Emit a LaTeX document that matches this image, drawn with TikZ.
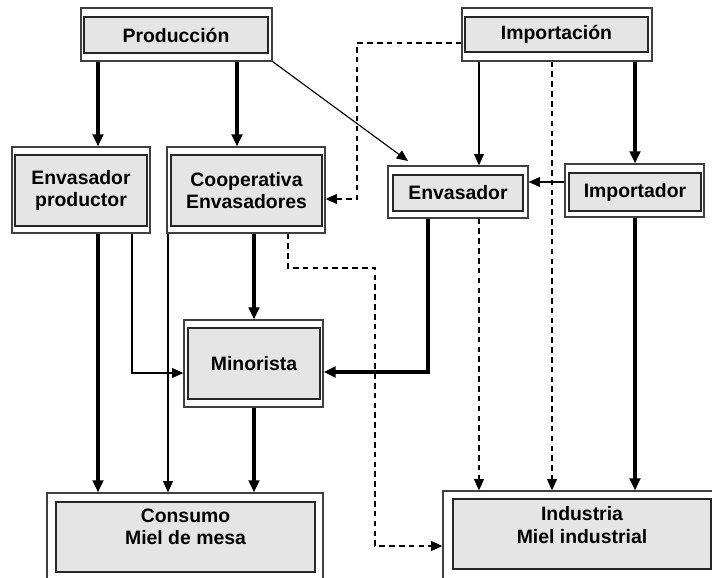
\documentclass[tikz,border=0pt]{standalone}
\usepackage{fontspec}
\setmainfont{Liberation Sans}
\usetikzlibrary{arrows.meta}

\begin{document}
\begin{tikzpicture}
    [%%%%%%%%%%%%%%%%%%%%%%%%%%%%%%
        x=0.025cm, y=-0.025cm,
        frame/.style={rectangle,draw=black!75,line width=0.9pt,inner sep=0pt},
        panel/.style={rectangle,draw=black!85,line width=1pt,fill=gray!20,inner sep=0pt,
            align=center,font=\fontsize{13.8}{16}\selectfont\bfseries},
        caption/.style={inner sep=0pt,align=center,font=\fontsize{13.8}{16}\selectfont\bfseries},
        heavy/.style={line width=2.5pt,-{Triangle[length=8.5pt,width=7.5pt]}},
        light/.style={line width=0.8pt,-{Triangle[length=8pt,width=7pt]}},
        dashy/.style={line width=1pt,dash pattern=on 4pt off 3pt,-{Triangle[length=8pt,width=7pt]}},
    ]%%%%%%%%%%%%%%%%%%%%%%%%%%%%%%
    \clip (0,0) rectangle (712,578);

    \node[frame, minimum width=4.775cm, minimum height=1.325cm] (prod) at (176.5,34.5) {};
    \node[panel, minimum width=4.6cm, minimum height=0.9cm] (prod-in) at (176,35) {Producción};

    \node[frame, minimum width=4.75cm, minimum height=1.325cm] (imp) at (557,34.5) {};
    \node[panel, minimum width=4.575cm, minimum height=0.875cm] (imp-in) at (556.5,34.5) {Importación};

    \node[frame, minimum width=3.45cm, minimum height=2.15cm] (envp) at (81,190) {};
    \node[panel, minimum width=3.3cm, minimum height=1.775cm] (envp-in) at (81,190.5) {Envasador\\productor};

    \node[frame, minimum width=3.95cm, minimum height=2.15cm] (coop) at (246,190) {};
    \node[panel, minimum width=3.775cm, minimum height=1.775cm] (coop-in) at (246.5,190.5) {Cooperativa\\Envasadores};

    \node[frame, minimum width=3.5cm, minimum height=1.3cm] (envs) at (458,192) {};
    \node[panel, minimum width=3.25cm, minimum height=0.9cm] (envs-in) at (458,193) {Envasador};

    \node[frame, minimum width=3.475cm, minimum height=1.325cm] (impr) at (634.5,190.5) {};
    \node[panel, minimum width=3.3cm, minimum height=0.95cm] (impr-in) at (635,192) {Importador};

    \node[frame, minimum width=3.475cm, minimum height=2.175cm] (mino) at (253.5,363.5) {};
    \node[panel, minimum width=3.3cm, minimum height=1.775cm] (mino-in) at (254,363.5) {Minorista};

    \node[frame, minimum width=6.9cm, minimum height=2.3cm] (cons) at (185,539) {};
    \node[panel, minimum width=6.475cm, minimum height=1.75cm] (cons-in) at (185.5,537) {};
    \node[caption] (cons-txt) at (185.5,527) {Consumo\\Miel de mesa};

    \node[frame, minimum width=6.925cm, minimum height=2.35cm] (ind) at (581.5,538) {};
    \node[panel, minimum width=6.45cm, minimum height=1.75cm] (ind-in) at (582,534) {};
    \node[caption] (ind-txt) at (582,525) {Industria\\Miel industrial};

    \coordinate (envs-in-tip) at (408,161);

    % desde produccion
    \draw[heavy] (prod.south -| 98,0) -- (envp.north -| 98,0);
    \draw[heavy] (prod.south -| 237,0) -- (coop.north -| 237,0);
    \draw[light] (prod.south east) -- (envs-in-tip);

    % desde importacion
    \draw[dashy] (imp.west |- 0,43) -| (357,199) -- (coop.east |- 0,199);
    \draw[light] (imp.south -| 479,0) -- (envs.north -| 479,0);
    \draw[dashy] (imp.south -| 552,0) -- (ind.north -| 552,0);
    \draw[heavy] (imp.south -| 635,0) -- (impr.north -| 635,0);

    \draw[light] (impr.west |- 0,182) -- (envs.east |- 0,182);
    \draw[heavy] (impr.south -| 635,0) -- (ind.north -| 635,0);

    \draw[heavy] (envs.south -| 428,0) |- (mino.east |- 0,372);
    \draw[dashy] (envs.south -| 479,0) -- (ind.north -| 479,0);

    % envasadores hacia abajo
    \draw[heavy] (envp.south -| 98,0) -- (cons.north -| 98,0);
    \draw[light] (envp.south -| 132,0) |- (mino.west |- 0,373);
    \draw[light] (coop.south -| 168,0) -- (cons.north -| 168,0);
    \draw[heavy] (coop.south -| 254,0) -- (mino.north -| 254,0);
    \draw[dashy] (coop.south -| 288,0) -- (288,268) -| (375,546) -- (ind.west |- 0,546);
    \draw[heavy] (mino.south -| 254,0) -- (cons.north -| 254,0);
\end{tikzpicture}
\end{document}
